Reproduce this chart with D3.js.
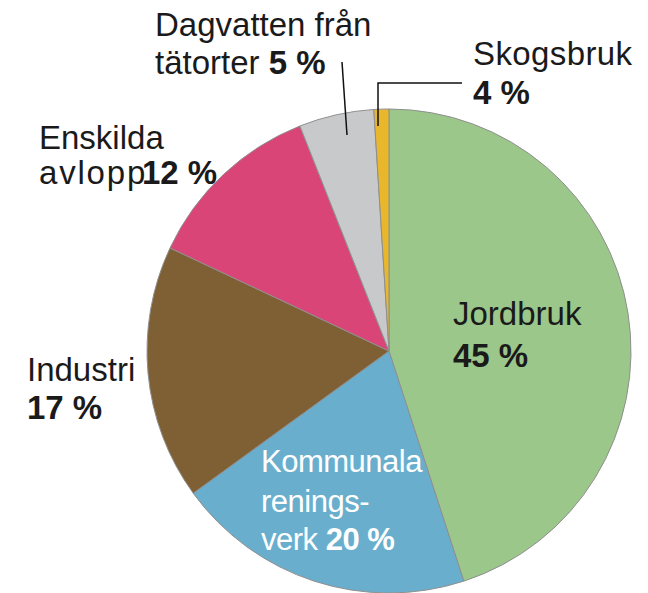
<!DOCTYPE html>
<html><head><meta charset="utf-8">
<script src="https://cdn.jsdelivr.net/npm/d3@7"></script>
<style>body{margin:0;background:#fff}svg{display:block}text{font-family:"Liberation Sans",Arial,sans-serif}</style>
</head><body>
<svg id="c" width="648" height="593"></svg>
<script>
const categories = ["Jordbruk","Kommunala reningsverk","Industri","Enskilda avlopp","Dagvatten från tätorter","Skogsbruk"];
const values = [45,20,17,12,5,1];
const percentLabels = ["45 %","20 %","17 %","12 %","5 %","4 %"];
const colors = ["#9bc78a","#69afcd","#7f6035","#da4578","#c8c9cb","#e9b72b"];

const svg = d3.select("#c");
const cx = 389, cy = 351, R = 242;
const g = svg.append("g").attr("transform",`translate(${cx},${cy})`);
const pie = d3.pie().sort(null).value(d=>d)(values);
const arc = d3.arc().innerRadius(0).outerRadius(R);
g.selectAll("path").data(pie).join("path")
  .attr("d",arc).attr("fill",(d,i)=>colors[i])
  .attr("stroke","#8f8f8f").attr("stroke-width",1);

// leader lines
svg.append("path").attr("d","M342,62L347,135").attr("stroke","#111").attr("stroke-width",1.5).attr("fill","none");
svg.append("path").attr("d","M462,83H378V126").attr("stroke","#111").attr("stroke-width",1.5).attr("fill","none");

function label(x,y,parts,fill,fs,ls){
  const t = svg.append("text").attr("x",x).attr("y",y).attr("font-size",fs||33).attr("fill",fill||"#1a1a1a").attr("letter-spacing",ls||0);
  parts.forEach(p=>t.append("tspan").text(p[0]).attr("font-weight",p[1]?"bold":"normal"));
  return t;
}
label(155,36,[["Dagvatten från"]]);
label(155,74,[["tätorter "],[percentLabels[4],1]]);
label(473,65,[["Skogsbruk"]],null,33,0.4);
label(473,104,[[percentLabels[5],1]]);
label(39,149,[["Enskilda"]]);
label(39,184,[["avlopp"]],null,33,1.8);
label(142,184,[[percentLabels[3],1]]);
label(27,381,[["Industri"]]);
label(27,419,[[percentLabels[2],1]]);
label(261,472,[["Kommunala"]],"#fff",31,-0.5);
label(261,512,[["renings-"]],"#fff",31,-0.5);
label(261,550,[["verk "],[percentLabels[1],1]],"#fff",31,-0.5);
label(453,325,[["Jordbruk"]]);
label(453,367,[[percentLabels[0],1]]);
</script>
</body></html>
